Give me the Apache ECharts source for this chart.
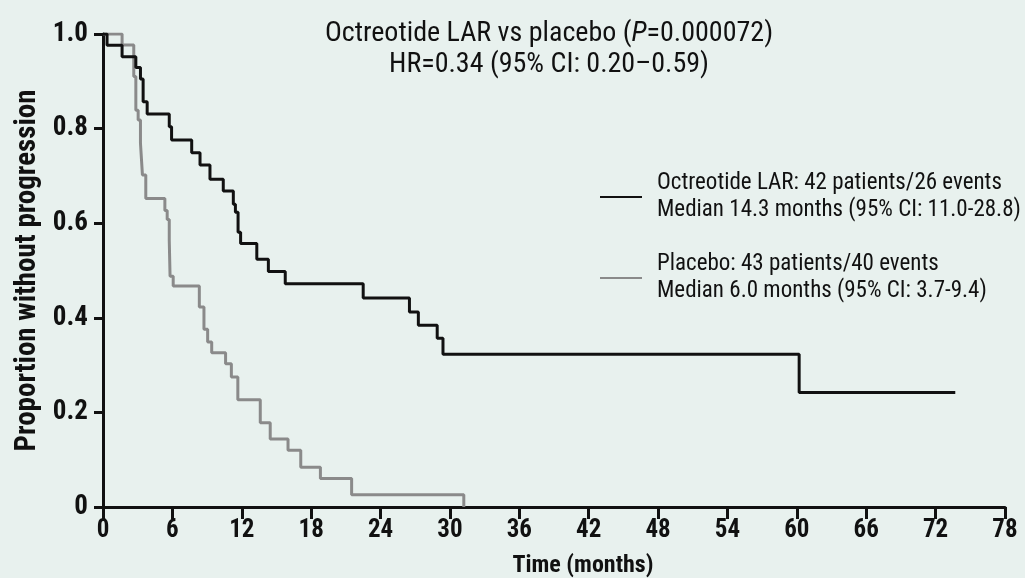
<!DOCTYPE html>
<html>
<head>
<meta charset="utf-8">
<title>PROMID progression-free survival</title>
<script src="https://cdn.jsdelivr.net/npm/echarts@6/dist/echarts.min.js"></script>
<style>
  html, body { margin: 0; padding: 0; background: #e8f1ee; }
  #chart { width: 1025px; height: 578px; }
</style>
</head>
<body>
<div id="chart"></div>
<script>
// Kaplan-Meier steps (time in months, proportion after the drop)
const octTime = [0, 0.35, 1.65, 2.84, 3.24, 3.47, 3.82, 5.73, 5.93, 7.67, 8.39, 9.25, 10.4, 11.27, 11.45, 11.68, 11.9, 13.3, 14.3, 15.76, 22.5, 26.5, 27.27, 28.9, 29.4, 60.2, 73.7];
const octSurv = [1.0, 0.976, 0.952, 0.929, 0.905, 0.857, 0.831, 0.804, 0.776, 0.749, 0.723, 0.693, 0.668, 0.640, 0.623, 0.581, 0.557, 0.524, 0.498, 0.472, 0.442, 0.412, 0.384, 0.357, 0.323, 0.242, 0.242];

const pboTime = [0, 1.65, 2.66, 2.84, 3.04, 3.24, 3.41, 3.7, 5.35, 5.55, 5.73, 5.8, 6.07, 8.33, 8.73, 9.05, 9.4, 10.6, 11.1, 11.66, 13.6, 14.46, 16.0, 17.1, 18.8, 21.5, 31.2];
const pboSurv = [1.0, 0.977, 0.91, 0.839, 0.818, 0.769, 0.702, 0.652, 0.627, 0.608, 0.563, 0.488, 0.467, 0.423, 0.376, 0.349, 0.326, 0.303, 0.275, 0.227, 0.178, 0.144, 0.12, 0.084, 0.060, 0.026, 0.0];

const seriesNames = ['Octreotide LAR', 'Placebo'];
const legendText = {
  'Octreotide LAR': 'Octreotide LAR: 42 patients/26 events\nMedian 14.3 months (95% CI: 11.0-28.8)',
  'Placebo': 'Placebo: 43 patients/40 events\nMedian 6.0 months (95% CI: 3.7-9.4)'
};

const xTicks = { min: 0, max: 78, interval: 6 };
const yTicks = { min: 0, max: 1, interval: 0.2 };

const condensed = '"Roboto Condensed", "Open Sans Condensed", "Liberation Sans", sans-serif';

const toPairs = (xs, ys) => xs.map((t, i) => [t, ys[i]]);

const chart = echarts.init(document.getElementById('chart'), null, { renderer: 'canvas' });

const option = {
  backgroundColor: '#e8f1ee',
  animation: false,
  title: {
    text: '{n|Octreotide LAR vs placebo (}{i|P}{n|=0.000072)}\n{n|HR=0.34 (95% CI: 0.20\u20130.59)}',
    left: 544,
    top: 13,
    textAlign: 'center',
    textStyle: {
      fontWeight: 'normal',
      rich: {
        n: { fontFamily: condensed, fontSize: 28, fontWeight: 'normal', color: '#111', lineHeight: 31 },
        i: { fontFamily: condensed, fontSize: 28, fontWeight: 'normal', color: '#111', fontStyle: 'italic', lineHeight: 31 }
      }
    }
  },
  legend: {
    orient: 'vertical',
    left: 595,
    top: 165,
    itemWidth: 42,
    itemHeight: 14,
    itemGap: 27,
    icon: 'path://M0,6 L42,6 L42,8 L0,8 Z',
    data: seriesNames,
    formatter: name => legendText[name],
    textStyle: {
      fontFamily: condensed,
      fontSize: 23,
      color: '#111',
      lineHeight: 27,
      padding: [0, 0, 0, 10]
    }
  },
  grid: { left: 103, right: 20, top: 34, bottom: 71, containLabel: false, outerBoundsMode: 'none' },
  xAxis: {
    type: 'value',
    min: xTicks.min,
    max: xTicks.max,
    interval: xTicks.interval,
    name: 'Time (months)',
    nameLocation: 'middle',
    nameGap: 47,
    nameTextStyle: {
      fontFamily: condensed, fontSize: 24, fontWeight: 'bold', color: '#111',
      padding: [0, 0, 0, 58]
    },
    axisLine: { lineStyle: { color: '#111', width: 3 } },
    axisTick: { show: true, length: 12, lineStyle: { color: '#111', width: 3 } },
    axisLabel: {
      fontFamily: condensed, fontSize: 25, fontWeight: 'bold', color: '#111', margin: 11
    },
    splitLine: { show: false }
  },
  yAxis: {
    type: 'value',
    min: yTicks.min,
    max: yTicks.max,
    interval: yTicks.interval,
    name: 'Proportion without progression',
    nameLocation: 'middle',
    nameGap: 61,
    nameTextStyle: { fontFamily: condensed, fontSize: 29, fontWeight: 'bold', color: '#111' },
    axisLine: { show: true, lineStyle: { color: '#111', width: 3 } },
    axisTick: { show: true, length: 9, lineStyle: { color: '#111', width: 3 } },
    axisLabel: {
      fontFamily: condensed, fontSize: 27, fontWeight: 'bold', color: '#111', margin: 15,
      formatter: v => (v === 0 ? '0' : v.toFixed(1))
    },
    splitLine: { show: false }
  },
  series: [
    {
      name: seriesNames[0],
      type: 'line',
      step: 'end',
      data: toPairs(octTime, octSurv),
      symbol: 'none',
      color: '#111',
      lineStyle: { color: '#111', width: 3 },
      z: 3
    },
    {
      name: seriesNames[1],
      type: 'line',
      step: 'end',
      data: toPairs(pboTime, pboSurv),
      symbol: 'none',
      color: '#8a8a8a',
      lineStyle: { color: '#8a8a8a', width: 3 },
      z: 2
    }
  ]
};

chart.setOption(option);
window.addEventListener('resize', () => chart.resize());
</script>
</body>
</html>
